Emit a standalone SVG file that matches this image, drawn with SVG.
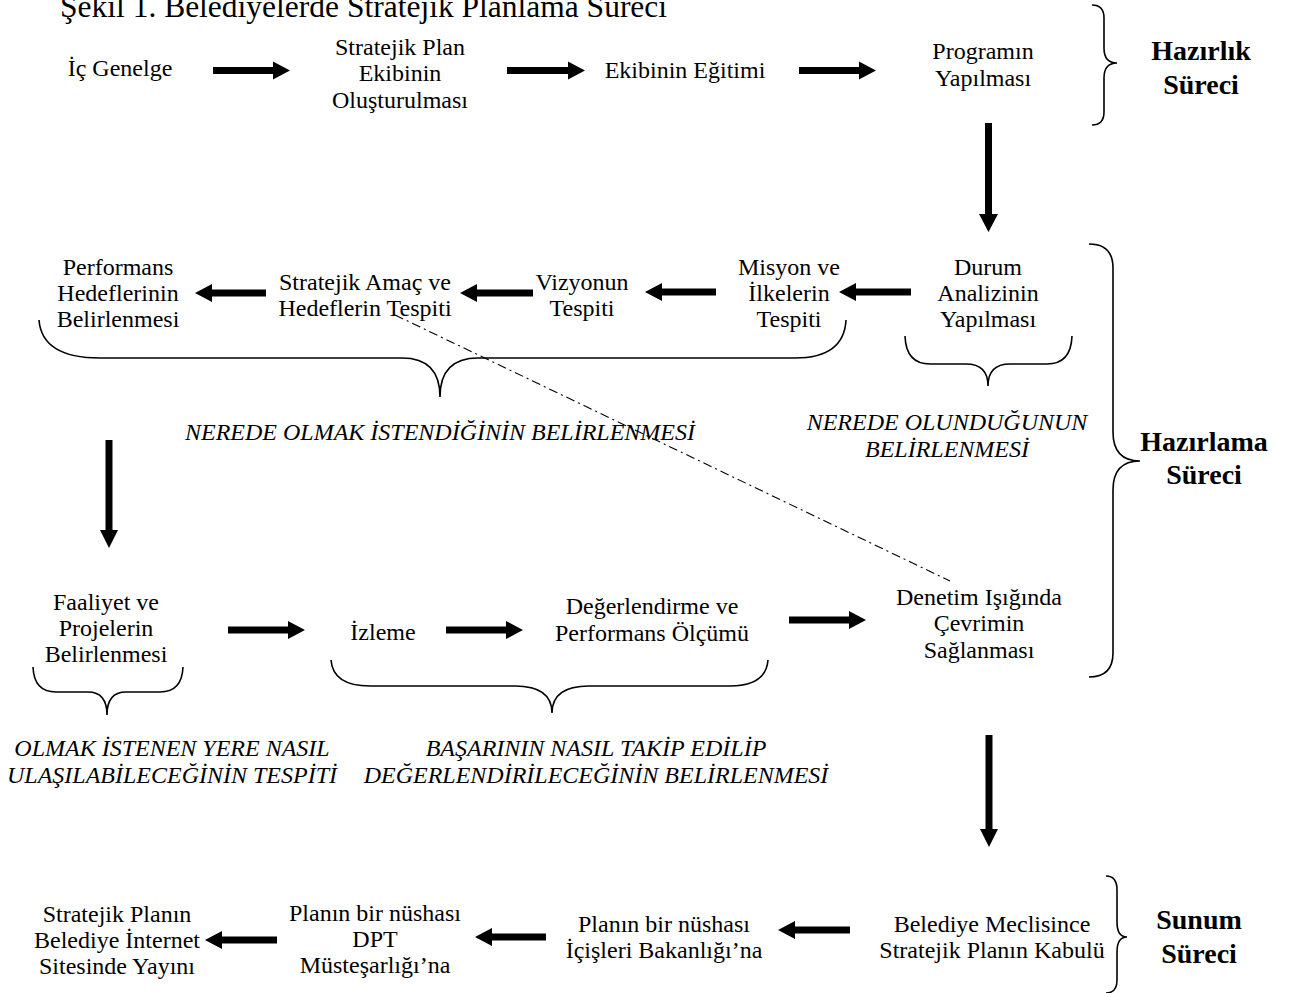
<svg xmlns="http://www.w3.org/2000/svg" width="1289" height="993" viewBox="0 0 1289 993">
<style>
text{font-family:"Liberation Serif","Times New Roman",serif;fill:#000;text-anchor:middle}
.t{font-size:24px}
.i{font-size:24px;font-style:italic}
.b{font-size:28px;font-weight:bold}
.ti{font-size:31.5px;text-anchor:start}
.arr{fill:#000}
.br{fill:none;stroke:#000;stroke-width:1.6}
.dd{fill:none;stroke:#000;stroke-width:1.1;stroke-dasharray:9 4 2 4}
</style>
<rect width="1289" height="993" fill="#fff"/>
<text class="ti" x="60" y="17">Şekil 1. Belediyelerde Stratejik Planlama Süreci</text>

<g id="n-ic-genelge"><text class="t" x="120" y="76">İç Genelge</text></g>
<g id="n-ekip"><text class="t" x="400" y="55">Stratejik Plan</text><text class="t" x="400" y="81">Ekibinin</text><text class="t" x="400" y="108">Oluşturulması</text></g>
<g id="n-egitim"><text class="t" x="685" y="78">Ekibinin Eğitimi</text></g>
<g id="n-program"><text class="t" x="983" y="59">Programın</text><text class="t" x="983" y="86">Yapılması</text></g>
<g id="n-hazirlik"><text class="b" x="1201" y="60">Hazırlık</text><text class="b" x="1201" y="94">Süreci</text><path class="br" d="M1092,5 Q1104,5 1104,18 L1104,48 Q1104,63 1117,63 Q1104,63 1104,78 L1104,112 Q1104,125 1092,125"/></g>

<g id="n-durum"><text class="t" x="988" y="275">Durum</text><text class="t" x="988" y="301">Analizinin</text><text class="t" x="988" y="327">Yapılması</text><path class="br" d="M905,336 Q906,364 930,364 L966,364 Q988,364 988,386 Q988,364 1010,364 L1047,364 Q1071,364 1072,336"/><text class="i" x="947" y="430">NEREDE OLUNDUĞUNUN</text><text class="i" x="947" y="457">BELİRLENMESİ</text></g>
<g id="n-misyon"><text class="t" x="789" y="275">Misyon ve</text><text class="t" x="789" y="301">İlkelerin</text><text class="t" x="789" y="327">Tespiti</text></g>
<g id="n-vizyon"><text class="t" x="582" y="290">Vizyonun</text><text class="t" x="582" y="316">Tespiti</text></g>
<g id="n-amac"><text class="t" x="365" y="290">Stratejik Amaç ve</text><text class="t" x="365" y="316">Hedeflerin Tespiti</text></g>
<g id="n-performans"><text class="t" x="118" y="275">Performans</text><text class="t" x="118" y="301">Hedeflerinin</text><text class="t" x="118" y="327">Belirlenmesi</text></g>
<g id="n-nerede-olmak"><path class="br" d="M39,320 Q42,358 100,358 L402,358 Q440,358 440,397 Q440,358 478,358 L795,358 Q844,358 846,320"/><text class="i" x="440" y="440">NEREDE OLMAK İSTENDİĞİNİN BELİRLENMESİ</text></g>
<g id="n-hazirlama"><path class="br" d="M1089,244 Q1113,244 1113,268 L1113,432 Q1113,461 1140,461 Q1113,461 1113,490 L1113,653 Q1113,677 1089,677"/><text class="b" x="1204" y="451">Hazırlama</text><text class="b" x="1204" y="484">Süreci</text></g>

<g id="n-faaliyet"><text class="t" x="106" y="610">Faaliyet ve</text><text class="t" x="106" y="636">Projelerin</text><text class="t" x="106" y="662">Belirlenmesi</text><path class="br" d="M33,667 Q34,692 56,692 L88,692 Q107,692 107,715 Q107,692 126,692 L160,692 Q182,692 183,667"/><text class="i" x="172" y="756">OLMAK İSTENEN YERE NASIL</text><text class="i" x="172" y="783">ULAŞILABİLECEĞİNİN TESPİTİ</text></g>
<g id="n-izleme"><text class="t" x="383" y="640">İzleme</text></g>
<g id="n-degerlendirme"><text class="t" x="652" y="614">Değerlendirme ve</text><text class="t" x="652" y="641">Performans Ölçümü</text></g>
<g id="n-basari"><path class="br" d="M331,660 Q333,686 370,686 L515,686 Q552,686 552,713 Q552,686 589,686 L730,686 Q766,686 768,660"/><text class="i" x="596" y="756">BAŞARININ NASIL TAKİP EDİLİP</text><text class="i" x="596" y="783">DEĞERLENDİRİLECEĞİNİN BELİRLENMESİ</text></g>
<g id="n-denetim"><text class="t" x="979" y="605">Denetim Işığında</text><text class="t" x="979" y="631">Çevrimin</text><text class="t" x="979" y="658">Sağlanması</text></g>

<g id="n-meclis"><text class="t" x="992" y="932">Belediye Meclisince</text><text class="t" x="992" y="958">Stratejik Planın Kabulü</text></g>
<g id="n-sunum"><path class="br" d="M1106,876 Q1117,876 1117,890 L1117,922 Q1117,937 1127,937 Q1117,937 1117,952 L1117,980 Q1117,993 1106,993"/><text class="b" x="1199" y="929">Sunum</text><text class="b" x="1199" y="963">Süreci</text></g>
<g id="n-icisleri"><text class="t" x="664" y="932">Planın bir nüshası</text><text class="t" x="664" y="958">İçişleri Bakanlığı’na</text></g>
<g id="n-dpt"><text class="t" x="375" y="921">Planın bir nüshası</text><text class="t" x="375" y="947">DPT</text><text class="t" x="375" y="973">Müsteşarlığı’na</text></g>
<g id="n-internet"><text class="t" x="117" y="922">Stratejik Planın</text><text class="t" x="117" y="948">Belediye İnternet</text><text class="t" x="117" y="974">Sitesinde Yayını</text></g>

<g id="connectors">
<polygon class="arr" points="213,67 273,67 273,61.5 290,70.5 273,79.5 273,74 213,74"/>
<polygon class="arr" points="507,67 568,67 568,61.5 585,70.5 568,79.5 568,74 507,74"/>
<polygon class="arr" points="799,67 859,67 859,61.5 876,70.5 859,79.5 859,74 799,74"/>
<polygon class="arr" points="985,123 985,214 979,214 988.5,232 998,214 992,214 992,123"/>
<polygon class="arr" points="911,288.5 856,288.5 856,283 839,292 856,301 856,295.5 911,295.5"/>
<polygon class="arr" points="716,288.5 662,288.5 662,283 645,292 662,301 662,295.5 716,295.5"/>
<polygon class="arr" points="533,289.5 477,289.5 477,284 460,293 477,302 477,296.5 533,296.5"/>
<polygon class="arr" points="266,289.5 212,289.5 212,284 195,293 212,302 212,296.5 266,296.5"/>
<polygon class="arr" points="105.5,440 105.5,530 100,530 109,548 118,530 112.5,530 112.5,440"/>
<polygon class="arr" points="228,626.5 288,626.5 288,621 305,630 288,639 288,633.5 228,633.5"/>
<polygon class="arr" points="446,626.5 506,626.5 506,621 523,630 506,639 506,633.5 446,633.5"/>
<polygon class="arr" points="789,616.5 849,616.5 849,611 866,620 849,629 849,623.5 789,623.5"/>
<polygon class="arr" points="985.5,735 985.5,829 980,829 989,847 998,829 992.5,829 992.5,735"/>
<polygon class="arr" points="850,926.5 795,926.5 795,921 778,930 795,939 795,933.5 850,933.5"/>
<polygon class="arr" points="546,933.5 492,933.5 492,928 475,937 492,946 492,940.5 546,940.5"/>
<polygon class="arr" points="277,936.5 222,936.5 222,931 205,940 222,949 222,943.5 277,943.5"/>
<path class="dd" d="M395,315 L950,581"/>
</g>
</svg>
